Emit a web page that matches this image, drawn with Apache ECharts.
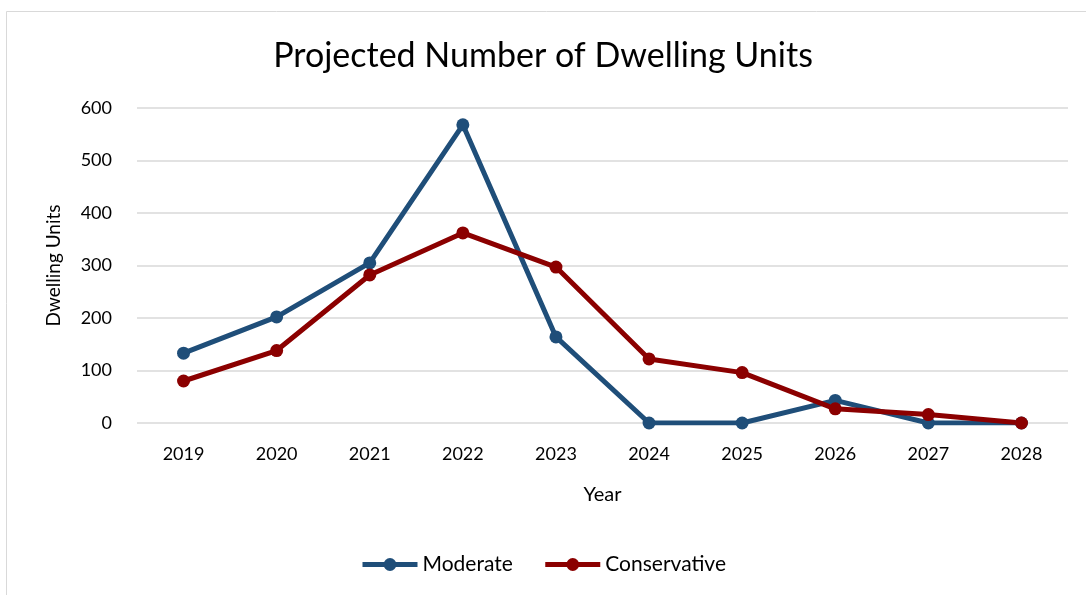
<!DOCTYPE html>
<html>
<head>
<meta charset="utf-8">
<script src="https://cdn.jsdelivr.net/npm/echarts@6/dist/echarts.min.js"></script>
<style>html,body{margin:0;padding:0;background:#fff;}#c{width:1086px;height:595px;}</style>
</head>
<body>
<div id="c"></div>
<script>
const years = ['2019','2020','2021','2022','2023','2024','2025','2026','2027','2028'];
const moderate = [133, 202, 305, 568, 164, 0, 0, 43, 0, 0];
const conservative = [80, 138, 282, 362, 297, 122, 96, 27, 16, 0];
const yTicks = [0, 100, 200, 300, 400, 500, 600];

const font = 'Lato, "Open Sans", sans-serif';
const chart = echarts.init(document.getElementById('c'));
chart.setOption({
  animation: false,
  backgroundColor: '#fff',
  graphic: [{
    type: 'rect', left: 4, top: 9,
    shape: {width: 1080, height: 584},
    style: {fill: 'none', stroke: '#d9d9d9', lineWidth: 1}
  }],
  title: {
    text: 'Projected Number of Dwelling Units',
    left: 'center', top: 34,
    textStyle: {fontFamily: font, fontSize: 34, fontWeight: 'normal', color: '#000'}
  },
  grid: {left: 137, right: 18, top: 108, bottom: 172, containLabel: false},
  legend: {
    bottom: 15, left: 'center', itemWidth: 55, itemHeight: 16, itemGap: 30,
    textStyle: {fontFamily: font, fontSize: 21, color: '#000'},
    itemStyle: {borderWidth: 0},
    lineStyle: {width: 5},
    data: ['Moderate', 'Conservative']
  },
  xAxis: {
    type: 'category', data: years, boundaryGap: true,
    name: 'Year', nameLocation: 'middle', nameGap: 62,
    nameTextStyle: {fontFamily: font, fontSize: 20, color: '#000'},
    axisLine: {show: false}, axisTick: {show: false},
    axisLabel: {fontFamily: font, fontSize: 18, color: '#000', margin: 22}
  },
  yAxis: {
    type: 'value', min: yTicks[0], max: yTicks[yTicks.length-1], interval: 100,
    name: 'Dwelling Units', nameLocation: 'middle', nameGap: 74, nameRotate: 90,
    nameTextStyle: {fontFamily: font, fontSize: 19, color: '#000'},
    axisLine: {show: false}, axisTick: {show: false},
    axisLabel: {fontFamily: font, fontSize: 18, color: '#000', margin: 25},
    splitLine: {lineStyle: {color: '#d9d9d9', width: 1.5}}
  },
  series: [
    {name: 'Moderate', type: 'line', data: moderate, symbol: 'circle', symbolSize: 13,
     lineStyle: {width: 5, color: '#1f4e79'}, itemStyle: {color: '#1f4e79'}},
    {name: 'Conservative', type: 'line', data: conservative, symbol: 'circle', symbolSize: 13,
     lineStyle: {width: 5, color: '#8b0000'}, itemStyle: {color: '#8b0000'}}
  ]
});
</script>
</body>
</html>
